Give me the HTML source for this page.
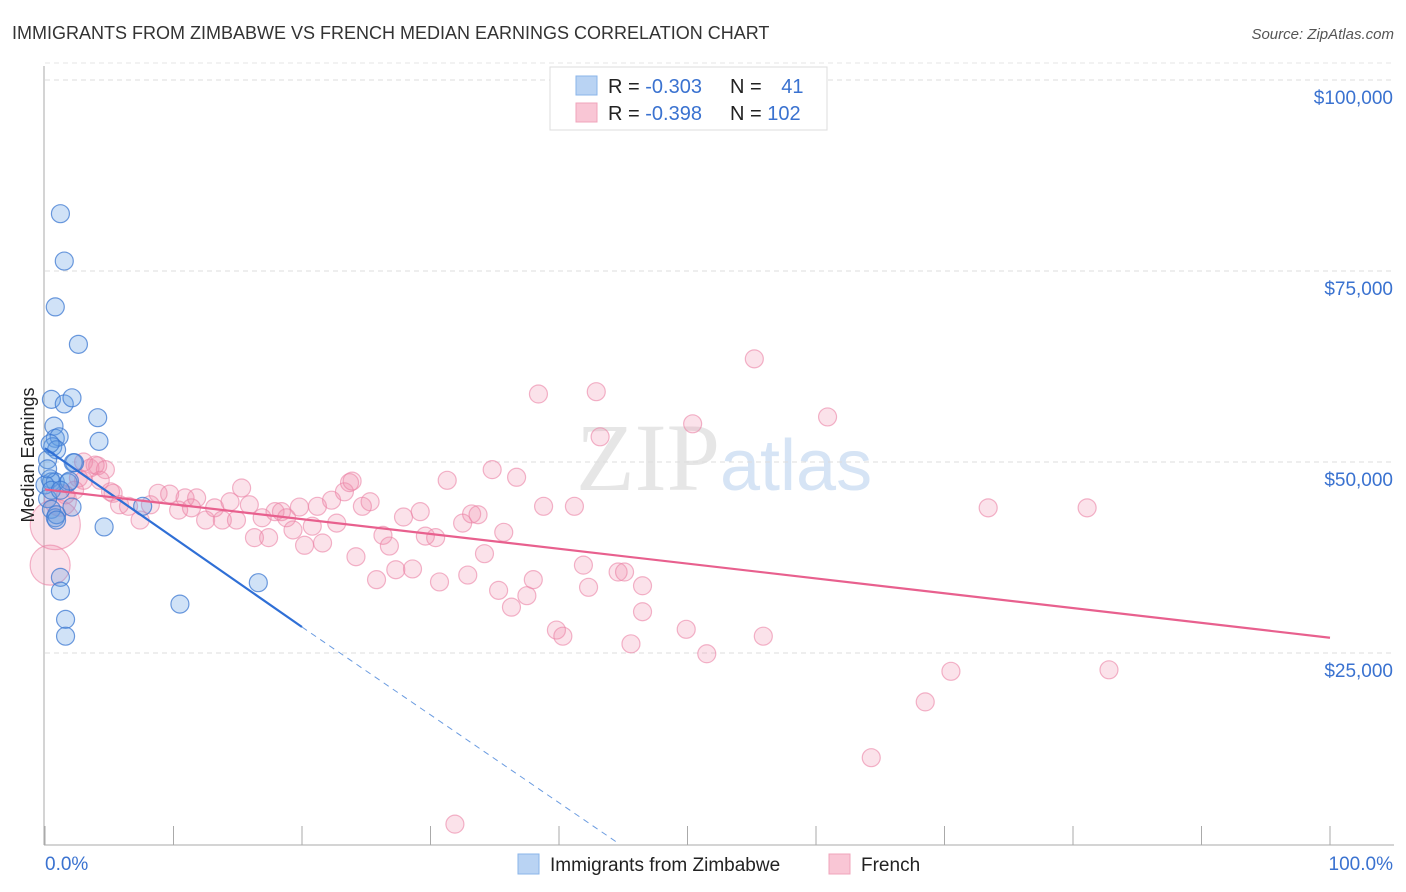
<!DOCTYPE html>
<html><head><meta charset="utf-8"><style>
body{margin:0;background:#fff;font-family:"Liberation Sans",sans-serif;}
svg{display:block}
</style></head><body>
<svg id="chart" width="1406" height="892" xmlns="http://www.w3.org/2000/svg">
<text x="12" y="39" font-size="18" fill="#333">IMMIGRANTS FROM ZIMBABWE VS FRENCH MEDIAN EARNINGS CORRELATION CHART</text>
<text x="1394" y="39" font-size="15" fill="#555" font-style="italic" text-anchor="end">Source: ZipAtlas.com</text>
<text x="720" y="490" font-size="96" fill="#e6e6e6" font-family="Liberation Serif" text-anchor="end">ZIP</text>
<text x="720" y="490" font-size="72" fill="#d6e4f5">atlas</text>
<g id="grid"></g>
<g id="axes"></g>
<g id="pts"></g>
<g id="trend"></g>
<text transform="translate(34,455) rotate(-90)" font-size="18" fill="#222" text-anchor="middle">Median Earnings</text>
<g>
<rect x="550" y="67" width="277" height="63" fill="#fff" stroke="#ddd"/>
<rect x="576" y="76" width="21" height="19" fill="#b9d3f3" stroke="#8ab4ea"/>
<rect x="576" y="103" width="21" height="19" fill="#f9c6d5" stroke="#f0a4bb"/>
<text x="608" y="93" font-size="20" fill="#222">R = <tspan fill="#3a72d0">-0.303</tspan></text>
<text x="730" y="93" font-size="20" fill="#222">N = <tspan fill="#3a72d0" dx="14">41</tspan></text>
<text x="608" y="120" font-size="20" fill="#222">R = <tspan fill="#3a72d0">-0.398</tspan></text>
<text x="730" y="120" font-size="20" fill="#222">N = <tspan fill="#3a72d0">102</tspan></text>
</g>
<g>
<rect x="518" y="854" width="21" height="20" fill="#b9d3f3" stroke="#8ab4ea"/>
<text x="550" y="871" font-size="19" fill="#222">Immigrants from Zimbabwe</text>
<rect x="829" y="854" width="21" height="20" fill="#f9c6d5" stroke="#f0a4bb"/>
<text x="861" y="871" font-size="19" fill="#222">French</text>
</g>
</svg>
<script>
const yTicks=[25000,50000,75000,100000];
const yTickLabels=["$25,000","$50,000","$75,000","$100,000"];
const xTicks=[0,10,20,30,40,50,60,70,80,90,100];
const blueX=[1.2,1.5,0.8,2.6,0.5,1.5,2.1,4.1,4.2,0.7,0.8,1.1,0.6,0.9,0.2,0.4,0.5,0.8,1.8,2.2,0,0.2,0.5,0.8,0.9,2.1,7.6,4.6,10.5,16.6,1.2,1.2,1.6,1.6,2.3,0.2,0.4,1.9,0.5,1.2,0.9];
const blueY=[82500,76300,70300,65400,58200,57600,58400,55800,52700,54700,53100,53300,52000,51600,50300,47800,47400,47400,47300,49900,47000,45200,43800,42700,43100,44100,44200,41500,31400,34200,34900,33100,29400,27200,49900,49100,52400,47500,46300,46300,42400];
const pinkX=[3.0,3.5,4.1,4.7,2.6,3.0,2.3,3.9,1.2,0.8,0.4,5.3,5.8,7.4,6.5,8.2,8.8,9.7,10.4,10.9,11.8,11.4,12.5,13.2,13.8,14.4,14.9,15.3,15.9,16.3,16.9,17.4,17.9,18.4,18.8,19.3,19.8,20.2,20.8,21.2,21.6,22.3,22.7,23.3,23.7,23.9,24.2,24.7,25.3,25.8,26.3,26.8,27.3,27.9,28.6,29.2,29.6,30.4,30.7,31.3,32.5,32.9,33.2,33.7,34.2,34.8,35.3,35.7,36.3,36.7,37.5,38.0,38.4,38.8,39.8,40.3,41.2,41.9,42.3,42.9,43.2,44.6,45.1,45.6,46.5,46.5,49.9,50.4,51.5,55.2,55.9,60.9,68.5,70.5,73.4,81.1,82.8,64.3,31.9,4.3,5.1,1.6];
const pinkY=[50000,49200,49500,49000,47900,47600,46300,49600,45000,41800,36500,45900,44400,42400,44200,44400,45900,45800,43700,45300,45300,44000,42400,44000,42400,44800,42400,46600,44400,40100,42700,40100,43500,43500,42700,41100,44100,39100,41600,44200,39400,45000,42000,46100,47300,47500,37600,44200,44800,34600,40400,39000,35900,42800,36000,43500,40300,40100,34300,47600,42000,35200,43200,43100,38000,49000,33200,40800,31000,48000,32500,34600,58900,44200,28000,27200,44200,36500,33600,59200,53300,35600,35600,26200,33800,30400,28100,55000,24900,63500,27200,55900,18600,22600,44000,44000,22800,11300,2600,47600,46100,45700];
const pinkR=new Array(pinkY.length).fill(9);pinkR[8]=16;pinkR[9]=25;pinkR[10]=20;
const X0=45,X1=1330,YB=844,PX25=191;
const sx=v=>X0+(X1-X0)*v/100;
const sy=v=>YB-v/25000*PX25;
const NS="http://www.w3.org/2000/svg";
function mk(parent,tag,attrs){const e=document.createElementNS(NS,tag);for(const k in attrs)e.setAttribute(k,attrs[k]);document.getElementById(parent).appendChild(e);return e;}
yTicks.forEach((t,i)=>{
 const l=mk('grid','line',{x1:45,x2:1394,y1:sy(t),y2:sy(t),stroke:'#ddd','stroke-dasharray':'5,4'});
 
 
 const tx=mk('grid','text',{x:1393,y:sy(t)+24,'font-size':19,fill:'#3a72d0','text-anchor':'end'});
 tx.textContent=yTickLabels[i];
 
 
});
const gl=mk('grid','line',{x1:45,x2:1394,y1:sy(100000)-17,y2:sy(100000)-17,stroke:'#e4e4e4','stroke-dasharray':'5,4'});


const ya=mk('axes','line',{x1:44,x2:44,y1:66,y2:845,stroke:'#aaa'});


const xa=mk('axes','line',{x1:44,x2:1394,y1:845,y2:845,stroke:'#aaa'});


xTicks.forEach(t=>{const l=mk('axes','line',{x1:sx(t),x2:sx(t),y1:826,y2:845,stroke:'#aaa'});
 
 });
const xl0=mk('axes','text',{x:45,y:870,'font-size':19,fill:'#3a72d0'});xl0.textContent='0.0%';


const xl1=mk('axes','text',{x:1393,y:870,'font-size':19,fill:'#3a72d0','text-anchor':'end'});xl1.textContent='100.0%';


pinkX.forEach((x,i)=>{const c=mk('pts','circle',{cx:sx(x),cy:sy(pinkY[i]),r:pinkR[i],fill:'rgba(240,140,170,0.25)',stroke:'rgba(235,130,165,0.6)','stroke-width':1.2});
 
 });
blueX.forEach((x,i)=>{const c=mk('pts','circle',{cx:sx(x),cy:sy(blueY[i]),r:9,fill:'rgba(100,160,230,0.3)',stroke:'rgba(60,120,210,0.75)','stroke-width':1.2});
 
 });
const bt=mk('trend','line',{x1:sx(0),y1:sy(51800),x2:sx(20),y2:sy(28400),stroke:'#2f6fd6','stroke-width':2.2});


const bd=mk('trend','line',{x1:sx(20),y1:sy(28400),x2:sx(44.7),y2:sy(0),stroke:'#6a9be0','stroke-width':1,'stroke-dasharray':'6,5'});


const pt=mk('trend','line',{x1:sx(0),y1:sy(46400),x2:sx(100),y2:sy(27000),stroke:'#e8608e','stroke-width':2.2});


</script>
</body></html>
